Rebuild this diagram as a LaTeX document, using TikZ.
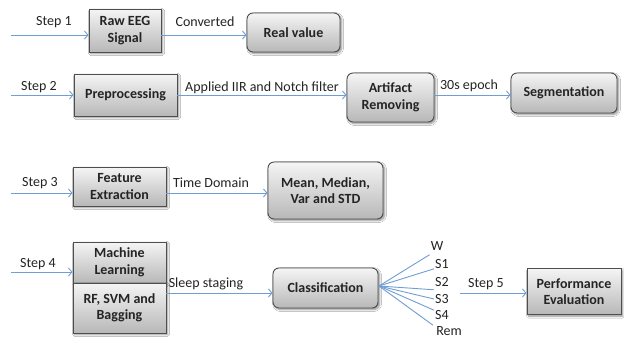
\documentclass[tikz,border=0pt]{standalone}
\usepackage{fontspec}
\setmainfont{Carlito}
\usetikzlibrary{arrows.meta,shadows.blur}

\definecolor{linkblue}{RGB}{112,158,212}
\definecolor{boxedge}{RGB}{78,78,78}
\definecolor{inktext}{RGB}{36,36,36}

\tikzset{
  procbox/.style={draw=boxedge, line width=0.9pt,
    top color=black!4, bottom color=black!28,
    blur shadow={shadow xshift=1.6pt, shadow yshift=-1.6pt,
      shadow blur steps=5, shadow opacity=45},
    font=\fontsize{14}{16.5}\selectfont\bfseries, text=inktext,
    align=center, inner sep=2pt},
  outbox/.style={procbox, rounded corners=6pt},
  link/.style={draw=linkblue, line width=0.9pt,
    -{Straight Barb[length=3.5pt,width=8pt]}},
  fanline/.style={draw=linkblue, line width=0.9pt},
  tag/.style={font=\fontsize{14}{16}\selectfont, text=inktext, inner sep=0pt},
}

\begin{document}
\begin{tikzpicture}[x=1pt,y=-1pt]
  \fill[white] (0,0) rectangle (624,339);
  \useasboundingbox (0,0) rectangle (624,339);

  % ---- boxes ----
  \node[procbox, minimum width=72, minimum height=43] (raw) at (125,30.5) {Raw EEG\\Signal};
  \node[outbox, minimum width=93, minimum height=39] (real) at (293.5,32.5) {Real value};

  \node[procbox, minimum width=103, minimum height=42] (pre) at (125.5,95) {Preprocessing};
  \node[outbox, minimum width=87, minimum height=49] (art) at (390.5,97.5) {Artifact\\Removing};
  \node[outbox, minimum width=106, minimum height=40] (seg) at (564,93) {Segmentation};

  \node[procbox, minimum width=93, minimum height=39] (fe) at (119.5,186.5) {Feature\\Extraction};
  \node[outbox, minimum width=115, minimum height=57] (mean) at (325.5,190.5) {Mean, Median,\\Var and STD};

  \node[procbox, minimum width=93, minimum height=41] (ml) at (119.5,262.5) {Machine\\Learning};
  \node[procbox, minimum width=93, minimum height=50] (rf) at (119.5,308) {RF, SVM and\\Bagging};
  \node[outbox, minimum width=105, minimum height=40] (cls) at (325.5,288) {Classification};
  \node[procbox, minimum width=94, minimum height=46] (perf) at (574,291.5) {Performance\\Evaluation};

  % ---- rows of connectors ----
  \coordinate (s1) at (11,35);
  \coordinate (s2) at (11,95);
  \coordinate (s3) at (11,193);
  \coordinate (s4) at (11,272);
  \coordinate (r4) at (0,293);
  \coordinate (fan) at (379,286);
  \coordinate (s5) at (460,293);

  \draw[link] (s1) -- (s1 -| raw.west);
  \draw[link] (raw.east |- s1) -- (real.west |- s1);
  \draw[link] (s2) -- (s2 -| pre.west);
  \draw[link] (pre.east |- s2) -- (art.west |- s2);
  \draw[link] (art.east |- s2) -- (seg.west |- s2);
  \draw[link] (s3) -- (s3 -| fe.west);
  \draw[link] (fe.east |- s3) -- (mean.west |- s3);
  \draw[link] (s4) -- (s4 -| ml.west);
  \draw[link] (rf.east |- r4) -- (cls.west |- r4);
  \draw[link] (s5) -- (s5 -| perf.west);

  % ---- connector labels ----
  \node[tag] (t1) at (54,22.5) {Step 1};
  \node[tag] (t2) at (205,21.5) {Converted};
  \node[tag] (t3) at (39,87) {Step 2};
  \node[tag] (t4) at (262,87.5) {Applied IIR and Notch filter};
  \node[tag] (t5) at (469,86) {30s epoch};
  \node[tag] (t6) at (40,183) {Step 3};
  \node[tag] (t7) at (211,183) {Time Domain};
  \node[tag] (t8) at (38,264.5) {Step 4};
  \node[tag] (t9) at (206,284) {Sleep staging};
  \node[tag] (t10) at (486,284) {Step 5};

  % ---- sleep stages ----
  \node[tag] (w)   at (437,246) {W};
  \node[tag] (st1) at (442,264) {S1};
  \node[tag] (st2) at (442,282) {S2};
  \node[tag] (st3) at (442,299) {S3};
  \node[tag] (st4) at (442,315) {S4};
  \node[tag] (rem) at (449,331) {Rem};

  \draw[fanline] (fan) -- ([xshift=-1,yshift=-4]w.south west);
  \draw[fanline] (fan) -- ([xshift=-1]st1.south west);
  \draw[fanline] (fan) -- ([xshift=-1,yshift=-3]st2.south west);
  \draw[fanline] (fan) -- ([xshift=-1]st3.west);
  \draw[fanline] (fan) -- ([xshift=-1]st4.north west);
  \draw[fanline] (fan) -- ([xshift=-3,yshift=1]rem.north west);
\end{tikzpicture}
\end{document}
